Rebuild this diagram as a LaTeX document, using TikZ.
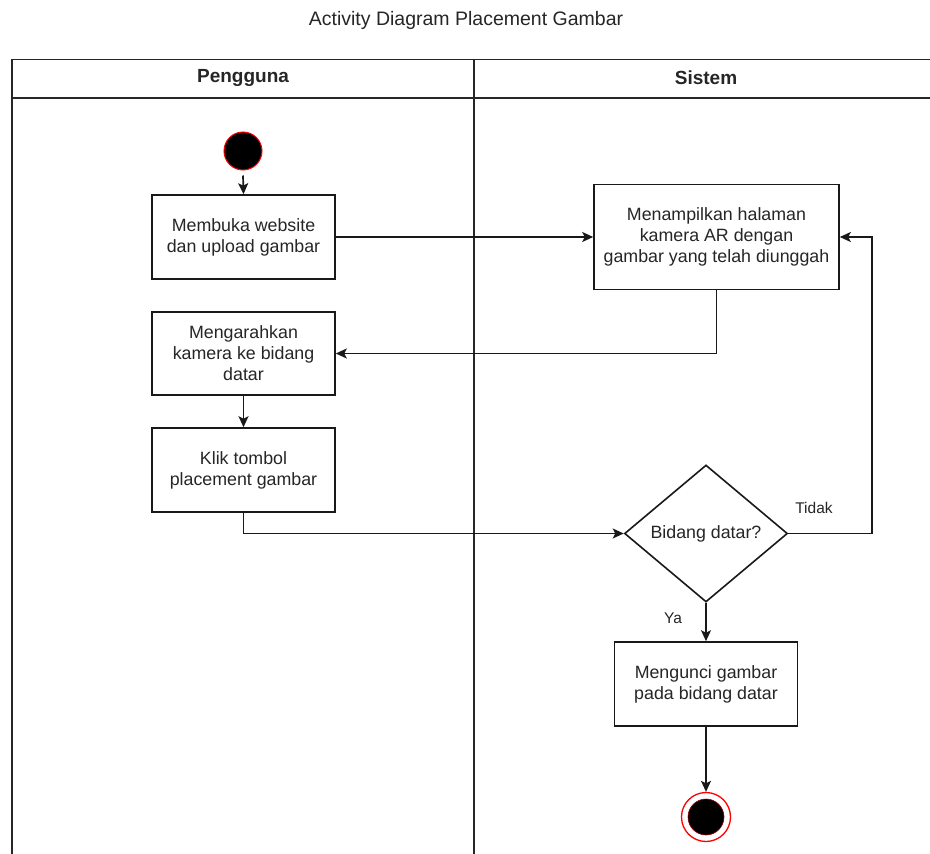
\documentclass[tikz,border=0pt]{standalone}
\usepackage{fontspec}
\setmainfont{Liberation Sans}
\usetikzlibrary{shapes.geometric,arrows.meta}
\begin{document}
\begin{tikzpicture}[x=1pt,y=-1pt,
  act/.style={draw=black!90,line width=1.6pt,fill=white,rectangle,inner sep=0pt,
    minimum width=183pt,minimum height=84pt,align=center,
    font=\fontsize{17.8}{21}\selectfont,text=black!85},
  arr/.style={line width=1.7pt,draw=black!90,-{Stealth[length=11pt,width=10pt,inset=2.5pt]}},
  lane/.style={line width=1.8pt,draw=black!85},
  lbl/.style={font=\fontsize{15.5}{18}\selectfont,text=black!85,inner sep=0pt}]
\useasboundingbox (0,0) rectangle (930,854);
\fill[white] (0,0) rectangle (930,854);
% title
\node[font=\fontsize{19.5}{23}\selectfont,text=black!85] (title) at (466,20) {Activity Diagram Placement Gambar};
% pool
\draw[lane] (12,860) -- (12,59.5) -- (935,59.5);
\draw[lane] (12,98) -- (935,98);
\draw[lane] (474,59.5) -- (474,860);
\node[font=\bfseries\fontsize{19}{23}\selectfont,text=black!85] (h1) at (243,78) {Pengguna};
\node[font=\bfseries\fontsize{19}{23}\selectfont,text=black!85] (h2) at (706,78) {Sistem};
% start
\node[circle,fill=black,draw=red,line width=1pt,minimum size=38pt,inner sep=0pt] (start) at (243,151) {};
% activities
\node[act] (b1) at (243.5,237) {Membuka website\\dan upload gambar};
\node[act,minimum width=245pt,minimum height=105pt] (b2) at (716.5,237) {Menampilkan halaman\\kamera AR dengan\\gambar yang telah diunggah};
\node[act,minimum height=83pt] (b3) at (243.5,353.5) {Mengarahkan\\kamera ke bidang\\datar};
\node[act] (b4) at (243.5,470) {Klik tombol\\placement gambar};
\node[act,diamond,minimum width=163pt,minimum height=137pt] (d) at (706,533.5) {Bidang datar?};
\node[act] (b5) at (706,684) {Mengunci gambar\\pada bidang datar};
% end
\node[circle,draw=red,line width=1.3pt,fill=white,minimum size=49pt,inner sep=0pt] (endo) at (706,817) {};
\node[circle,fill=black,draw=red!60!black,line width=0.6pt,minimum size=36pt,inner sep=0pt] (endi) at (706,817) {};
% connectors
\draw[arr] (start.south) ++(0,5) coordinate (s0) -- (b1.north);
\draw[arr] (b1.east) -- (b2.west);
\draw[arr] (b2.south) |- (b3.east);
\draw[arr] (b3.south) -- (b4.north);
\draw[arr] (b4.south) |- (d.west);
\draw[arr] (d.east) -- (872,533.5) coordinate (t1) |- (b2.east);
\draw[arr] (d.south) -- (b5.north);
\draw[arr] (b5.south) -- (endo.north);
\node[lbl] (tidak) at (814,508) {Tidak};
\node[lbl] (ya) at (673,618) {Ya};
\end{tikzpicture}
\end{document}
